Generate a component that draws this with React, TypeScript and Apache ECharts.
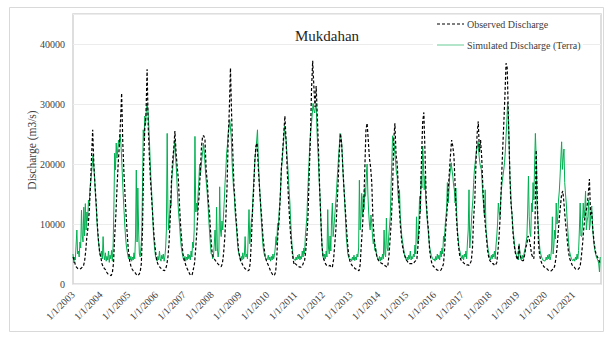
import React, { useEffect, useRef } from "react";
import * as echarts from "echarts";

const FONT = "Liberation Serif";

const YEARS = [2003, 2004, 2005, 2006, 2007, 2008, 2009, 2010, 2011, 2012, 2013, 2014, 2015, 2016, 2017, 2018, 2019, 2020, 2021];

// Observed discharge (m3/s), 24 readings per year
const OBS_2003 = [4500, 4000, 3200, 2800, 2600, 2500, 2500, 2600, 2800, 3000, 3800, 5500, 8000, 9500, 12000, 16000, 21000, 25700, 20000, 16500, 13500, 10000, 7300, 5200];
const OBS_2004 = [4500, 3400, 2900, 2600, 2400, 2000, 1700, 1600, 1500, 1400, 1900, 3500, 8000, 11500, 16000, 20000, 23000, 27000, 31800, 23500, 18500, 14500, 11000, 7800];
const OBS_2005 = [5200, 3800, 3000, 2500, 2200, 2000, 1800, 1500, 1400, 1600, 2000, 3400, 9000, 20000, 26000, 28000, 35800, 26000, 21000, 17000, 14000, 11000, 8000, 6000];
const OBS_2006 = [4200, 3500, 3000, 2800, 2600, 2400, 2300, 2200, 2500, 3200, 4500, 7000, 11000, 17000, 20500, 22500, 25500, 22000, 19500, 17500, 13000, 9500, 7000, 5000];
const OBS_2007 = [4000, 3400, 2800, 2400, 2000, 1600, 1400, 1600, 2500, 3500, 6000, 9000, 12400, 15000, 19000, 23000, 24700, 24700, 24000, 19000, 16900, 13500, 11500, 8000];
const OBS_2008 = [5500, 4500, 4200, 3900, 3700, 3400, 3200, 3000, 2900, 3400, 5000, 7500, 11000, 16000, 24000, 29000, 36000, 28000, 22000, 16500, 13400, 10500, 8000, 5600];
const OBS_2009 = [4500, 3800, 3400, 3000, 2700, 2500, 2400, 2200, 2300, 3400, 7000, 12000, 15600, 20500, 23000, 23500, 19500, 16200, 13400, 11000, 8000, 6200, 4500, 3900];
const OBS_2010 = [3400, 3000, 2500, 2000, 1700, 1400, 1500, 2000, 4500, 8500, 10500, 14500, 19500, 22000, 25000, 28000, 24000, 19000, 14600, 11000, 8000, 6000, 4200, 3200];
const OBS_2011 = [3400, 3200, 3000, 2900, 2800, 2800, 3000, 3500, 3900, 5500, 8000, 11500, 18500, 24000, 32400, 37200, 33000, 29500, 33000, 28000, 22500, 16000, 11000, 6500];
const OBS_2012 = [4500, 3900, 3400, 3100, 3000, 3000, 3100, 2800, 2800, 4000, 6500, 9000, 13000, 17000, 22000, 25100, 23400, 19500, 16000, 13000, 10000, 7000, 5000, 3900];
const OBS_2013 = [3400, 3100, 2800, 2700, 2500, 2500, 2300, 2200, 3200, 6500, 9500, 13000, 19000, 25700, 26800, 24000, 21000, 19500, 17000, 11000, 7900, 6200, 5000, 4200];
const OBS_2014 = [3900, 3700, 3500, 3400, 3300, 3100, 3000, 2800, 3200, 5000, 7900, 11000, 16000, 24000, 26800, 21500, 20000, 16000, 12000, 9000, 7000, 5800, 5000, 4500];
const OBS_2015 = [4000, 3700, 3400, 3400, 3400, 3400, 3400, 3700, 3900, 4200, 6500, 9000, 13000, 21000, 27000, 28600, 22000, 14500, 11000, 9000, 5600, 4200, 3400, 3000];
const OBS_2016 = [2800, 2600, 2400, 2300, 2200, 2200, 2400, 2800, 3400, 6000, 9500, 12000, 15600, 18500, 21500, 24000, 23000, 21300, 16500, 11500, 8500, 6200, 4700, 4000];
const OBS_2017 = [3900, 3600, 3400, 3400, 3200, 3200, 3100, 3400, 3900, 6000, 11000, 14000, 20000, 25000, 27100, 22000, 24000, 21000, 16000, 12500, 10000, 7900, 5600, 4500];
const OBS_2018 = [3900, 3700, 3400, 3400, 3100, 3200, 3600, 5500, 8000, 11500, 17000, 22000, 26500, 31300, 36800, 36000, 28000, 20500, 14000, 12000, 8500, 6500, 5200, 4500];
const OBS_2019 = [4000, 6500, 5000, 4200, 3900, 3900, 4800, 6000, 6700, 8000, 7500, 6500, 5000, 4500, 4200, 10000, 22300, 14000, 6700, 4800, 3900, 3400, 3100, 2800];
const OBS_2020 = [2800, 2600, 2400, 2200, 2200, 2200, 2400, 2500, 3000, 4200, 6000, 8500, 11000, 13000, 15000, 15500, 13500, 11000, 9000, 7000, 5200, 4200, 3700, 3200];
const OBS_2021 = [3000, 2800, 2500, 2400, 2400, 2600, 3000, 4500, 6500, 9000, 11000, 12000, 13000, 15000, 17500, 11500, 12000, 9000, 7000, 5600, 4800, 4500, 4000, 3600];

// Simulated discharge (Terra) (m3/s), 36 readings per year
const SIM_2003 = [5000, 3500, 4500, 4000, 6500, 9000, 5000, 5500, 4500, 7000, 6000, 12300, 8000, 7000, 12800, 8000, 13400, 9000, 12000, 10500, 14000, 13000, 16000, 17000, 18500, 20000, 21500, 19500, 17500, 15000, 13000, 10500, 8500, 7000, 6000, 5000];
const SIM_2004 = [4500, 5500, 4200, 7900, 4800, 4000, 5200, 3800, 4600, 4000, 5500, 3600, 4800, 4200, 5600, 3800, 6500, 13000, 21800, 19000, 23500, 21000, 22500, 24000, 23000, 25000, 23500, 21000, 18000, 15000, 12500, 10000, 8000, 6500, 5600, 4800];
const SIM_2005 = [4200, 5000, 4000, 4600, 3800, 4500, 4000, 5200, 4200, 8000, 19000, 7000, 16000, 9000, 5000, 4500, 6000, 8000, 16000, 25700, 24000, 28000, 26500, 29000, 30000, 29000, 27000, 24000, 20500, 17500, 15000, 12000, 9000, 7000, 5600, 4500];
const SIM_2006 = [4500, 3800, 4600, 4000, 5500, 4200, 3800, 4800, 4200, 5000, 3800, 4500, 6000, 9000, 25100, 12000, 9000, 11000, 14000, 13000, 17500, 19000, 20500, 22500, 24000, 21000, 19000, 16000, 13500, 11500, 10000, 8000, 6500, 5500, 4800, 4200];
const SIM_2007 = [4000, 4600, 3800, 4500, 4000, 5000, 4200, 4800, 4000, 5500, 4500, 7000, 6000, 9000, 24600, 12000, 13500, 12000, 15000, 17000, 20000, 18000, 19500, 21000, 22000, 23500, 22000, 20000, 18000, 16500, 15000, 13000, 10500, 8500, 6500, 5000];
const SIM_2008 = [5000, 4200, 4800, 6500, 9000, 5500, 12800, 6000, 4500, 5500, 16200, 9000, 7900, 10500, 9000, 11500, 14000, 16900, 19000, 21800, 23000, 25100, 26000, 27400, 26000, 24500, 20500, 18000, 16000, 14600, 12000, 10500, 9000, 7000, 5600, 5000];
const SIM_2009 = [4500, 3800, 4600, 4000, 5200, 4200, 4800, 7900, 4500, 5000, 4200, 8000, 12400, 6700, 8500, 10500, 11200, 14000, 16900, 19000, 21300, 22500, 24000, 25700, 21000, 18000, 15500, 13000, 10500, 8500, 6500, 5500, 4800, 4500, 4200, 4000];
const SIM_2010 = [4200, 4800, 4000, 4500, 3800, 4600, 4000, 5000, 4200, 4800, 6000, 7900, 6500, 10100, 9000, 12000, 13500, 16000, 19100, 20500, 22500, 24000, 26300, 25000, 24000, 22000, 20000, 18000, 15500, 13500, 10500, 7900, 6000, 4800, 4200, 4000];
const SIM_2011 = [3900, 4500, 4000, 4800, 4200, 5000, 4000, 4600, 4200, 5500, 4500, 6000, 5000, 8000, 9500, 11200, 15000, 18000, 21000, 24000, 25500, 26800, 28500, 30100, 29000, 28500, 29500, 30100, 25800, 23000, 20200, 17000, 14600, 11000, 7900, 5500];
const SIM_2012 = [4500, 4000, 5000, 4200, 5500, 4500, 12400, 6000, 5000, 8000, 5500, 11000, 13500, 7900, 9500, 11200, 13000, 14600, 17000, 19100, 21000, 23000, 25100, 24500, 23600, 21000, 18000, 16000, 13500, 11000, 7900, 6500, 5000, 4500, 4200, 4000];
const SIM_2013 = [4200, 3800, 4500, 4000, 4800, 3900, 4500, 4000, 5000, 4500, 6000, 17300, 9000, 11000, 15100, 11200, 14600, 12400, 16000, 14600, 18000, 20000, 15000, 12000, 10000, 9000, 11500, 10100, 8000, 6700, 7500, 5600, 6000, 5100, 4500, 4200];
const SIM_2014 = [4000, 4600, 3800, 4500, 4000, 5000, 4200, 9000, 5000, 4500, 11000, 6000, 5500, 8000, 9500, 11200, 16000, 20200, 24700, 24000, 23600, 21500, 20200, 18500, 18000, 15000, 13500, 15700, 11200, 9500, 7900, 7000, 6200, 5200, 4500, 4200];
const SIM_2015 = [3900, 4500, 4000, 4800, 4200, 5500, 4000, 4600, 4200, 5000, 4500, 6500, 5000, 11200, 7000, 6700, 10000, 14600, 12000, 18000, 16000, 23000, 20200, 15700, 18000, 14000, 12400, 10500, 9000, 7500, 6200, 5500, 4800, 4500, 4200, 4000];
const SIM_2016 = [4200, 3800, 4600, 4000, 5000, 4200, 4800, 4000, 5500, 4500, 6000, 5000, 8000, 7000, 9500, 11200, 12500, 16900, 13500, 15500, 18000, 19000, 20200, 19000, 18000, 16500, 15700, 13500, 16000, 12000, 9000, 7500, 6200, 5600, 5000, 4500];
const SIM_2017 = [4200, 4800, 4000, 5000, 4500, 5500, 4200, 7000, 9000, 15700, 6000, 8000, 10000, 12400, 14000, 16900, 19000, 20200, 21500, 22500, 23000, 23600, 21500, 20200, 19500, 19100, 17000, 14600, 13000, 11200, 15700, 9000, 7900, 6500, 5600, 4800];
const SIM_2018 = [4500, 4000, 4800, 4200, 5000, 4500, 5500, 4200, 6500, 8000, 10000, 13500, 12000, 11200, 14000, 15700, 17000, 18000, 19000, 20200, 22000, 24700, 27000, 30300, 28000, 23600, 17500, 15700, 12500, 11200, 9000, 7900, 6500, 5600, 5000, 4500];
const SIM_2019 = [4500, 4000, 6700, 5000, 4200, 3900, 4800, 4200, 4800, 5600, 6000, 7000, 7900, 12000, 18000, 11200, 8500, 7900, 13500, 12000, 16900, 14000, 20000, 25100, 21300, 13500, 11000, 9000, 7000, 5600, 5000, 4500, 4200, 3900, 4000, 3800];
const SIM_2020 = [3900, 4500, 4000, 4800, 4200, 5000, 4000, 4600, 6000, 11200, 5000, 6500, 9000, 7500, 13500, 10000, 11200, 14000, 15500, 18000, 21000, 23700, 19100, 21000, 22500, 16900, 15000, 13500, 11000, 9000, 7000, 5600, 5000, 4500, 4200, 3900];
const SIM_2021 = [3900, 4200, 3800, 4500, 4000, 5000, 4200, 5600, 9000, 13500, 8000, 7900, 10000, 13500, 11000, 12400, 15500, 9000, 10500, 11200, 14000, 9000, 10000, 12000, 13000, 9500, 7900, 6500, 5600, 5000, 4500, 4200, 3900, 3500, 2000, 4500];

const OBS_BY_YEAR = [OBS_2003, OBS_2004, OBS_2005, OBS_2006, OBS_2007, OBS_2008, OBS_2009, OBS_2010, OBS_2011, OBS_2012, OBS_2013, OBS_2014, OBS_2015, OBS_2016, OBS_2017, OBS_2018, OBS_2019, OBS_2020, OBS_2021];
const SIM_BY_YEAR = [SIM_2003, SIM_2004, SIM_2005, SIM_2006, SIM_2007, SIM_2008, SIM_2009, SIM_2010, SIM_2011, SIM_2012, SIM_2013, SIM_2014, SIM_2015, SIM_2016, SIM_2017, SIM_2018, SIM_2019, SIM_2020, SIM_2021];

const Y_TICKS = [0, 10000, 20000, 30000, 40000];
const TITLE = "Mukdahan";
const OBS_NAME = "Observed Discharge";
const SIM_NAME = "Simulated Discharge (Terra)";
const Y_NAME = "Discharge (m3/s)";

const OBS_COLOR = "#000000";
const SIM_COLOR = "#00b050";

function toPoints(rows: number[][]) {
  const pts: number[][] = [];
  YEARS.forEach((y, k) => {
    const row = rows[k];
    row.forEach((v, i) => pts.push([y + i / row.length, v]));
  });
  return pts;
}

export default function App() {
  const ref = useRef<HTMLDivElement>(null);
  useEffect(() => {
    if (!ref.current) return;
    const chart = echarts.init(ref.current, null, { renderer: "svg" });
    const obs = toPoints(OBS_BY_YEAR);
    const sim = toPoints(SIM_BY_YEAR);
    const textStyle = (size: number, color: string) => ({
      fontFamily: FONT,
      fontSize: size,
      fill: color,
    });
    chart.setOption({
      animation: false,
      backgroundColor: "#ffffff",
      graphic: [
        {
          type: "rect",
          z: 1,
          shape: { x: 9.5, y: 7.5, width: 594, height: 324 },
          style: { fill: "none", stroke: "#d9d9d9", lineWidth: 1 },
          silent: true,
        },
        {
          type: "rect",
          z: 10,
          shape: { x: 433, y: 15, width: 150, height: 39 },
          style: { fill: "#ffffff" },
          silent: true,
        },
        {
          type: "text",
          z: 11,
          x: 327,
          y: 36,
          style: { text: TITLE, align: "center", verticalAlign: "middle", ...textStyle(15, "#262626") },
        },
        {
          type: "text",
          z: 11,
          x: 32,
          y: 150,
          rotation: Math.PI / 2,
          style: { text: Y_NAME, align: "center", verticalAlign: "middle", ...textStyle(11.5, "#404040") },
        },
        {
          type: "line",
          z: 11,
          shape: { x1: 437, y1: 24, x2: 464, y2: 24 },
          style: { stroke: OBS_COLOR, lineWidth: 1.2, lineDash: [3, 2] },
        },
        {
          type: "text",
          z: 11,
          x: 467,
          y: 24,
          style: { text: OBS_NAME, align: "left", verticalAlign: "middle", ...textStyle(10, "#404040") },
        },
        {
          type: "line",
          z: 11,
          shape: { x1: 437, y1: 45, x2: 464, y2: 45 },
          style: { stroke: "#7fd3a4", lineWidth: 1.2 },
        },
        {
          type: "text",
          z: 11,
          x: 467,
          y: 45,
          style: { text: SIM_NAME, align: "left", verticalAlign: "middle", ...textStyle(10, "#404040") },
        },
      ],
      grid: {
        left: 73,
        right: 5,
        top: 14,
        bottom: 55,
        show: true,
        borderColor: "#d4d4d4",
        borderWidth: 1.5,
        backgroundColor: "transparent",
      },
      xAxis: {
        type: "value",
        min: 2003,
        max: 2022,
        interval: 1,
        axisLine: { show: false },
        axisTick: { show: false },
        splitLine: { show: false },
        axisLabel: {
          rotate: 45,
          margin: 9,
          showMaxLabel: false,
          fontFamily: FONT,
          fontSize: 10,
          color: "#404040",
          formatter: (v: number) => (YEARS.includes(v) ? `1/1/${v}` : ""),
        },
      },
      yAxis: {
        type: "value",
        min: 0,
        max: 45000,
        interval: 10000,
        axisLine: { show: false },
        axisTick: { show: false },
        splitLine: { lineStyle: { color: "#ececec", width: 1 } },
        axisLabel: {
          margin: 8,
          showMaxLabel: false,
          fontFamily: FONT,
          fontSize: 10,
          color: "#404040",
          formatter: (v: number) => (Y_TICKS.includes(v) ? String(v) : ""),
        },
      },
      series: [
        {
          name: SIM_NAME,
          type: "line",
          data: sim,
          symbol: "none",
          z: 2,
          lineStyle: { color: SIM_COLOR, width: 1 },
          itemStyle: { color: SIM_COLOR },
        },
        {
          name: OBS_NAME,
          type: "line",
          data: obs,
          symbol: "none",
          z: 3,
          lineStyle: { color: OBS_COLOR, width: 1.2, type: [3, 2] },
          itemStyle: { color: OBS_COLOR },
        },
      ],
    });
    return () => chart.dispose();
  }, []);
  return (
    <div
      ref={ref}
      style={{ position: "fixed", left: 0, top: 0, width: 606, height: 339 }}
    />
  );
}
